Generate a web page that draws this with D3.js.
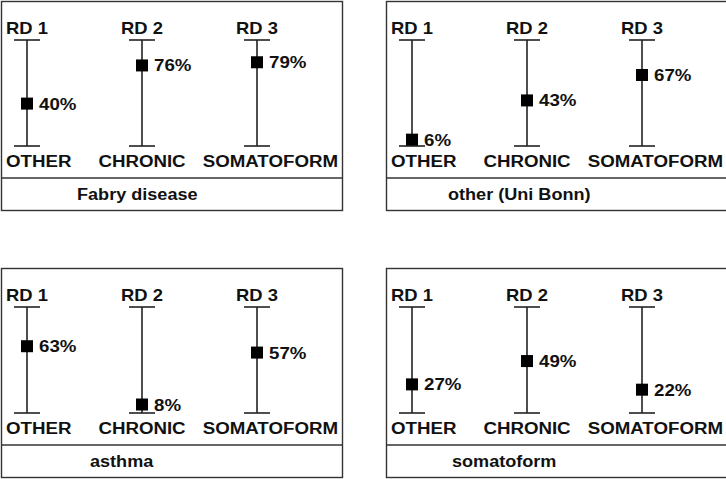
<!DOCTYPE html>
<html>
<head>
<meta charset="utf-8">
<script src="https://cdn.jsdelivr.net/npm/d3@7"></script>
<style>
  body { margin: 0; background: #fff; }
  text { font-family: "Liberation Sans", Arial, sans-serif; font-weight: bold; fill: #111; }
</style>
</head>
<body>
<div id="chart"></div>
<script>
// data
const panelTitles = ["Fabry disease", "other (Uni Bonn)", "asthma", "somatoform"];
const groups = ["RD 1", "RD 2", "RD 3"];
const categories = ["OTHER", "CHRONIC", "SOMATOFORM"];
const fabryValues = [40, 76, 79];
const otherBonnValues = [6, 43, 67];
const asthmaValues = [63, 8, 57];
const somatoformValues = [27, 49, 22];
const panelValues = [fabryValues, otherBonnValues, asthmaValues, somatoformValues];

const WIDTH = 726, HEIGHT = 479;
const PANEL = { "w" : 341, "h" : 209, "divider" : 177, "titleY" : 199, "pad" : 4 };
const PANEL_POS = [[1, 1], [386, 1], [1, 268], [386, 268]];
const TITLE_X = [76, 62, 89, 66];

const svg = d3.select("#chart").append("svg")
    .attr("width", WIDTH)
    .attr("height", HEIGHT);

const x = d3.scalePoint()
    .domain(groups)
    .range([26, 256]);

const y = d3.scaleLinear()
    .domain([0, 100])
    .range([145, 39]);

function stretchedText(g, str, px, py, anchor, size, stretch) {
    return g.append("text")
        .attr("text-anchor", anchor)
        .attr("font-size", size)
        .attr("transform", "translate(" + px + "," + py + ") scale(" + stretch + ",1)")
        .text(str);
}

panelTitles.forEach(function (title, p) {
    const g = svg.append("g")
        .attr("transform", "translate(" + PANEL_POS[p][0] + "," + PANEL_POS[p][1] + ")");

    g.append("rect")
        .attr("x", 0.5).attr("y", 0.5)
        .attr("width", PANEL.w).attr("height", PANEL.h)
        .attr("fill", "none").attr("stroke", "#333").attr("stroke-width", 1.4);

    g.append("line")
        .attr("x1", 0.5).attr("x2", PANEL.w + 0.5)
        .attr("y1", PANEL.divider).attr("y2", PANEL.divider)
        .attr("stroke", "#333").attr("stroke-width", 1.4);

    stretchedText(g, title, TITLE_X[p], PANEL.titleY, "start", 16, 1.13);

    const values = panelValues[p];

    groups.forEach(function (grp, i) {
        const cx = x(grp);

        // whisker
        g.append("line")
            .attr("x1", cx).attr("x2", cx)
            .attr("y1", y(100)).attr("y2", y(0))
            .attr("stroke", "#222").attr("stroke-width", 1.6);
        [0, 100].forEach(function (v) {
            g.append("line")
                .attr("x1", cx - 13).attr("x2", cx + 13)
                .attr("y1", y(v)).attr("y2", y(v))
                .attr("stroke", "#222").attr("stroke-width", 1.6);
        });

        stretchedText(g, grp, cx, y(100) - 6, "middle", 16, 1.15);

        // category labels: first flush left, last flush right, middle centred
        var anchor = "middle", lx = cx;
        if (i == 0) { anchor = "start"; lx = PANEL.pad + 1; }
        if (i == groups.length - 1) { anchor = "end"; lx = PANEL.w - PANEL.pad; }
        stretchedText(g, categories[i], lx, y(0) + 21, anchor, 17, 1.1);

        // marker
        g.append("rect")
            .attr("x", cx - 6).attr("y", y(values[i]) - 6)
            .attr("width", 12).attr("height", 12)
            .attr("fill", "#000");

        stretchedText(g, values[i] + "%", cx + 12, y(values[i]) + 6, "start", 17, 1.1);
    });
});
</script>
</body>
</html>
